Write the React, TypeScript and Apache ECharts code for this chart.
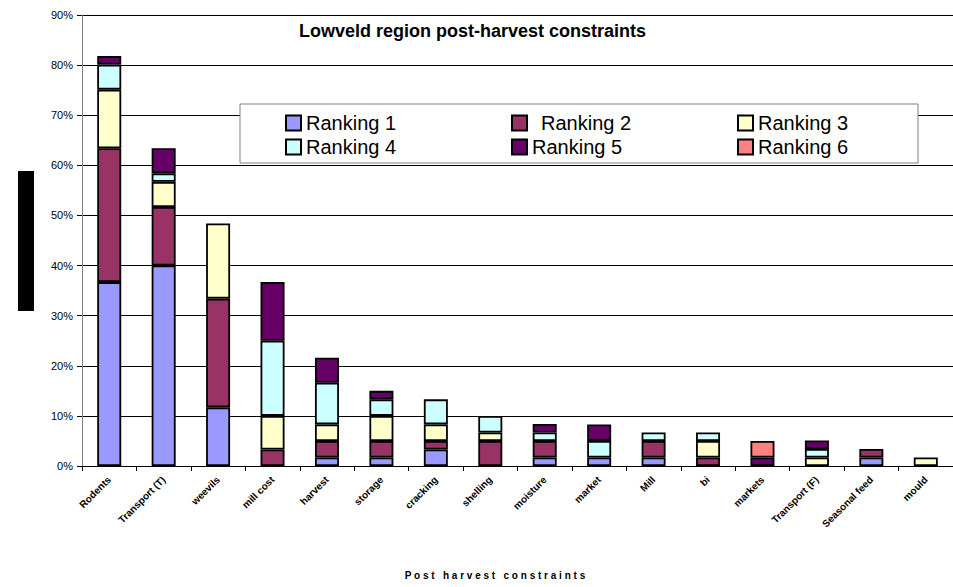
import React, { useEffect, useRef } from "react";
import * as echarts from "echarts";

const categories = [
  "Rodents",
  "Transport (T)",
  "weevils",
  "mill cost",
  "harvest",
  "storage",
  "cracking",
  "shelling",
  "moisture",
  "market",
  "Mill",
  "bi",
  "markets",
  "Transport (F)",
  "Seasonal feed",
  "mould",
];

const seriesNames = ["Ranking 1", "Ranking 2", "Ranking 3", "Ranking 4", "Ranking 5", "Ranking 6"];

const ranking1 = [36.7, 40, 11.7, 0, 1.7, 1.7, 3.3, 0, 1.7, 1.7, 1.7, 0, 0, 0, 1.7, 0];
const ranking2 = [26.7, 11.7, 21.7, 3.3, 3.3, 3.3, 1.7, 5, 3.3, 0, 3.3, 1.7, 0, 0, 1.7, 0];
const ranking3 = [11.7, 5, 15, 6.7, 3.3, 5, 3.3, 1.7, 0, 0, 0, 3.3, 0, 1.7, 0, 1.7];
const ranking4 = [5, 1.7, 0, 15, 8.3, 3.3, 5, 3.3, 1.7, 3.3, 1.7, 1.7, 0, 1.7, 0, 0];
const ranking5 = [1.7, 5, 0, 11.7, 5, 1.7, 0, 0, 1.7, 3.3, 0, 0, 1.7, 1.7, 0, 0];
const ranking6 = [0, 0, 0, 0, 0, 0, 0, 0, 0, 0, 0, 0, 3.3, 0, 0, 0];

const yTicks = [0, 10, 20, 30, 40, 50, 60, 70, 80, 90];

const colors = ["#9999FF", "#993366", "#FFFFCC", "#CCFFFF", "#660066", "#FF8080"];

const FONT = "Arial, 'Liberation Sans', sans-serif";

export default function App() {
  const ref = useRef<HTMLDivElement>(null);

  useEffect(() => {
    document.body.style.margin = "0";
    document.body.style.overflow = "hidden";
    if (!ref.current) return;
    const chart = echarts.init(ref.current, undefined, { renderer: "svg" });
    const all = [ranking1, ranking2, ranking3, ranking4, ranking5, ranking6];

    const legendPos = [
      { left: 285, top: 113 },
      { left: 511, top: 113 },
      { left: 737, top: 113 },
      { left: 285, top: 137 },
      { left: 511, top: 137 },
      { left: 737, top: 137 },
    ];

    const option: any = {
      animation: false,
      backgroundColor: "#ffffff",
      title: {
        text: "Lowveld region post-harvest constraints",
        left: 294,
        top: 17,
        textStyle: { fontFamily: FONT, fontSize: 18, fontWeight: "bold", color: "#000" },
      },
      legend: seriesNames.map((n, i) => ({
        data: [n],
        left: legendPos[i].left,
        top: legendPos[i].top,
        itemWidth: 15,
        itemHeight: 15,
        itemGap: 0,
        icon: "rect",
        selectedMode: false,
        padding: 0,
        z: 20,
        textStyle: { fontFamily: FONT, fontSize: 20, color: "#000", padding: i === 1 ? [0, 0, 0, 9] : 0 },
      })),
      grid: { left: 82, right: -14, top: 15, bottom: 121, containLabel: false },
      xAxis: {
        type: "category",
        data: categories,
        axisLine: { lineStyle: { color: "#000", width: 1 } },
        axisTick: { show: true, alignWithLabel: false, length: 5, lineStyle: { color: "#000" } },
        axisLabel: {
          rotate: 45,
          interval: 0,
          fontFamily: FONT,
          fontSize: 10,
          fontWeight: "bold",
          color: "#000",
          margin: 12,
        },
      },
      yAxis: {
        type: "value",
        min: 0,
        max: 90,
        interval: 10,
        axisLine: { show: true, lineStyle: { color: "#808080", width: 1 } },
        axisTick: { show: true, length: 5, lineStyle: { color: "#000" } },
        axisLabel: {
          formatter: (v: number) => (yTicks.includes(v) ? v + "%" : ""),
          fontFamily: FONT,
          fontSize: 11,
          color: "#000",
          margin: 9,
        },
        splitLine: { show: true, lineStyle: { color: "#000", width: 1 } },
      },
      graphic: [
        {
          type: "rect",
          shape: { x: 240, y: 104, width: 678, height: 59 },
          style: { fill: "#ffffff", stroke: "#808080", lineWidth: 1 },
          z: 10,
        },
        {
          type: "rect",
          shape: { x: 18, y: 171, width: 16, height: 140 },
          style: { fill: "#000000" },
        },
        {
          type: "text",
          x: 495,
          y: 570,
          style: {
            text: "P o s t   h a r v e s t   c o n s t r a i n t s",
            fontFamily: FONT,
            fontSize: 10,
            fontWeight: "bold",
            fill: "#000",
            align: "center",
          },
        },
      ],
      series: seriesNames.map((n, i) => ({
        name: n,
        type: "bar",
        stack: "total",
        barWidth: 24,
        data: all[i].map((v) => (v === 0 ? "-" : v)),
        itemStyle: { color: colors[i], borderColor: "#000", borderWidth: 1.8 },
      })),
    };
    chart.setOption(option);
    return () => chart.dispose();
  }, []);

  return <div ref={ref} style={{ width: 953, height: 587 }} />;
}
